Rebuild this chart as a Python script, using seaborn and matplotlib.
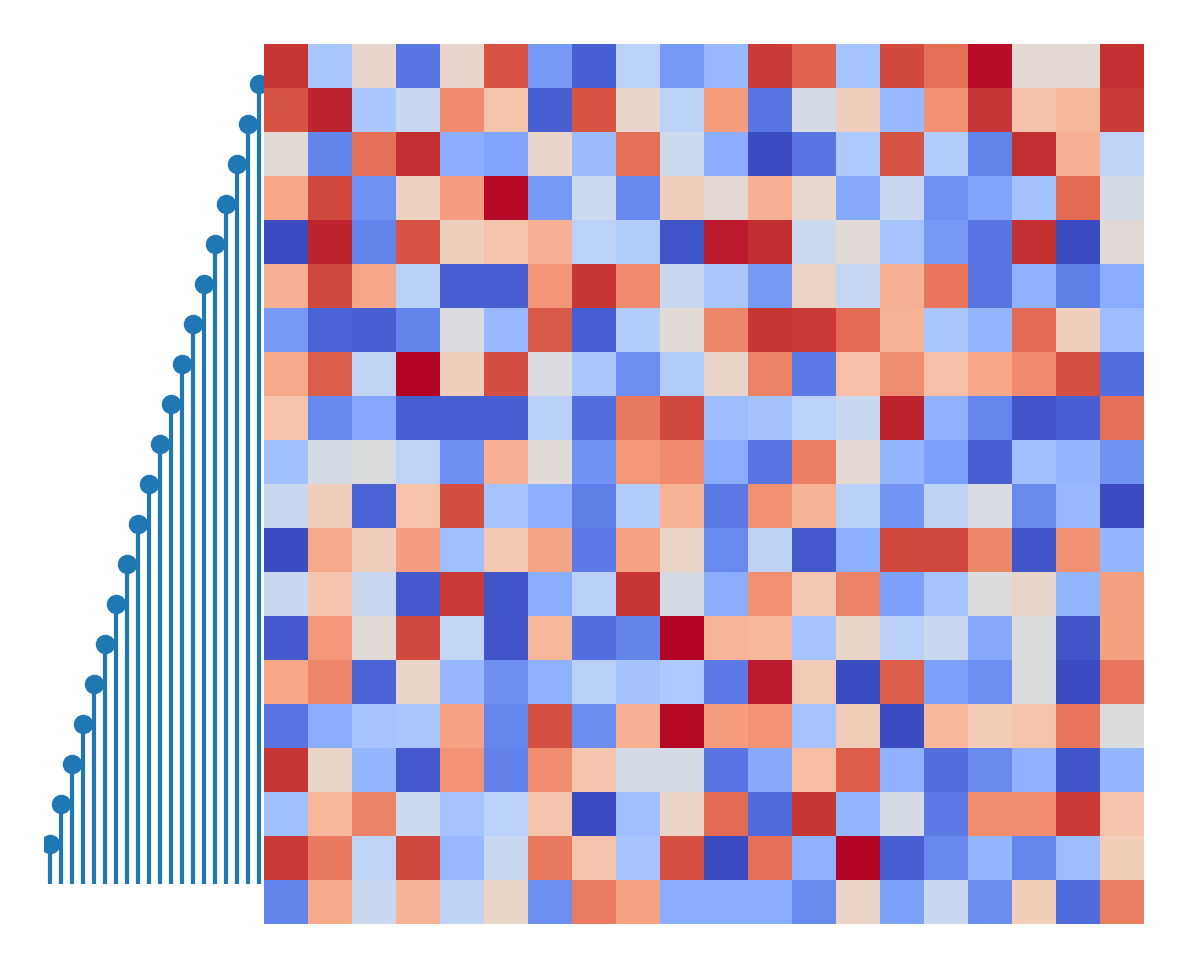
import numpy as np
import seaborn as sns
import matplotlib.pyplot as plt

# stem heights (one per column position)
stem_x = list(range(20))
stem_heights = [1, 2, 3, 4, 5, 6, 7, 8, 9, 10, 11, 12, 13, 14, 15, 16, 17, 18, 19, 20]

# heatmap values, read row by row (top to bottom)
row00 = [0.79, -0.3, 0.08, -0.71, 0.08, 0.7, -0.55, -0.8, -0.2, -0.55, -0.38, 0.77, 0.65, -0.32, 0.73, 0.6, 0.86, 0.05, 0.05, 0.8]
row01 = [0.7, 0.83, -0.3, -0.12, 0.5, 0.23, -0.8, 0.7, 0.08, -0.2, 0.43, -0.71, -0.05, 0.15, -0.38, 0.48, 0.79, 0.24, 0.3, 0.77]
row02 = [0.04, -0.65, 0.6, 0.8, -0.45, -0.5, 0.08, -0.37, 0.6, -0.1, -0.45, -0.88, -0.71, -0.28, 0.7, -0.25, -0.65, 0.8, 0.33, -0.18]
row03 = [0.38, 0.74, -0.58, 0.13, 0.42, 0.87, -0.55, -0.1, -0.63, 0.15, 0.05, 0.33, 0.07, -0.47, -0.12, -0.58, -0.5, -0.33, 0.62, -0.05]
row04 = [-0.88, 0.83, -0.65, 0.7, 0.15, 0.23, 0.33, -0.2, -0.25, -0.84, 0.84, 0.81, -0.1, 0.03, -0.32, -0.55, -0.71, 0.8, -0.88, 0.03]
row05 = [0.33, 0.74, 0.38, -0.22, -0.8, -0.8, 0.46, 0.79, 0.5, -0.12, -0.3, -0.55, 0.1, -0.14, 0.33, 0.58, -0.71, -0.43, -0.67, -0.46]
row06 = [-0.55, -0.78, -0.8, -0.65, -0.02, -0.38, 0.68, -0.8, -0.25, 0.03, 0.52, 0.79, 0.77, 0.62, 0.32, -0.3, -0.4, 0.62, 0.15, -0.36]
row07 = [0.37, 0.67, -0.17, 0.88, 0.15, 0.72, -0.02, -0.3, -0.6, -0.25, 0.09, 0.53, -0.69, 0.25, 0.49, 0.25, 0.38, 0.5, 0.71, -0.74]
row08 = [0.23, -0.63, -0.48, -0.8, -0.81, -0.8, -0.21, -0.74, 0.57, 0.74, -0.36, -0.33, -0.2, -0.12, 0.83, -0.42, -0.64, -0.845, -0.8, 0.6]
row09 = [-0.34, -0.05, -0.01, -0.18, -0.6, 0.33, 0.03, -0.58, 0.44, 0.5, -0.46, -0.71, 0.55, 0.05, -0.4, -0.52, -0.8, -0.34, -0.41, -0.58]
row10 = [-0.12, 0.15, -0.78, 0.23, 0.72, -0.32, -0.44, -0.67, -0.25, 0.32, -0.69, 0.48, 0.32, -0.21, -0.57, -0.19, -0.03, -0.62, -0.38, -0.88]
row11 = [-0.88, 0.37, 0.15, 0.42, -0.35, 0.2, 0.39, -0.69, 0.4, 0.1, -0.62, -0.19, -0.82, -0.44, 0.74, 0.74, 0.52, -0.845, 0.48, -0.4]
row12 = [-0.12, 0.22, -0.12, -0.82, 0.77, -0.84, -0.45, -0.21, 0.79, -0.05, -0.46, 0.48, 0.2, 0.53, -0.52, -0.32, -0.01, 0.08, -0.41, 0.41]
row13 = [-0.82, 0.45, 0.03, 0.73, -0.16, -0.84, 0.3, -0.74, -0.65, 0.88, 0.31, 0.3, -0.32, 0.09, -0.21, -0.12, -0.47, -0.01, -0.84, 0.41]
row14 = [0.38, 0.52, -0.78, 0.09, -0.39, -0.6, -0.42, -0.21, -0.33, -0.28, -0.69, 0.84, 0.19, -0.88, 0.67, -0.52, -0.6, -0.01, -0.88, 0.58]
row15 = [-0.71, -0.45, -0.31, -0.3, 0.4, -0.64, 0.71, -0.61, 0.33, 0.87, 0.43, 0.47, -0.32, 0.17, -0.88, 0.3, 0.18, 0.23, 0.58, -0.01]
row16 = [0.79, 0.09, -0.4, -0.82, 0.47, -0.66, 0.49, 0.22, -0.05, -0.05, -0.71, -0.47, 0.27, 0.67, -0.43, -0.74, -0.62, -0.42, -0.84, -0.41]
row17 = [-0.34, 0.3, 0.53, -0.1, -0.32, -0.2, 0.22, -0.88, -0.35, 0.1, 0.63, -0.75, 0.79, -0.41, -0.05, -0.69, 0.49, 0.49, 0.77, 0.22]
row18 = [0.77, 0.57, -0.18, 0.74, -0.38, -0.12, 0.57, 0.22, -0.31, 0.71, -0.88, 0.6, -0.43, 0.88, -0.8, -0.63, -0.4, -0.64, -0.36, 0.16]
row19 = [-0.65, 0.37, -0.12, 0.32, -0.19, 0.09, -0.6, 0.56, 0.4, -0.45, -0.45, -0.45, -0.62, 0.1, -0.52, -0.12, -0.61, 0.16, -0.75, 0.55]

grid = np.array([row00, row01, row02, row03, row04, row05, row06, row07, row08, row09,
                 row10, row11, row12, row13, row14, row15, row16, row17, row18, row19])

W, H = 1188, 968
fig = plt.figure(figsize=(W / 200, H / 200), dpi=200)

# stem plot on the left
ax_stem = fig.add_axes([44 / W, 44 / H, 220 / W, 880 / H])
ax_stem.stem(stem_x, stem_heights, basefmt=' ')
ax_stem.set_xlim(-0.5, 19.5)
ax_stem.set_ylim(-1, 21)
ax_stem.axis('off')

# heatmap on the right
ax_heat = fig.add_axes([264 / W, 44 / H, 880 / W, 880 / H])
sns.heatmap(grid, cmap='coolwarm', vmin=-0.88, vmax=0.88, cbar=False,
            xticklabels=False, yticklabels=False, ax=ax_heat)
ax_heat.axis('off')

fig.savefig('out.png', dpi=200)
